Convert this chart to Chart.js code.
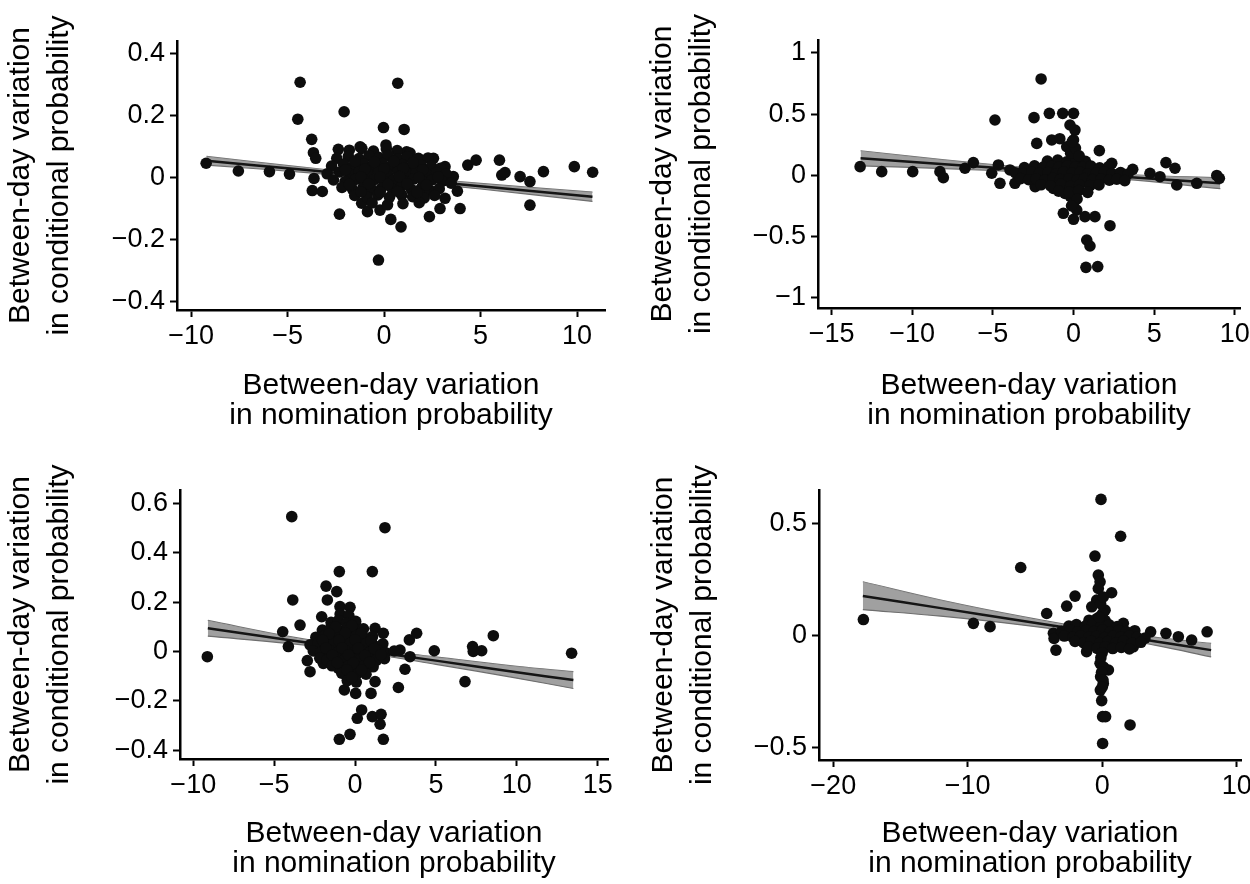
<!DOCTYPE html>
<html>
<head>
<meta charset="utf-8">
<script src="https://cdn.jsdelivr.net/npm/chart.js@4.4.1/dist/chart.umd.min.js"></script>
<style>
  body { margin: 0; background: #fff; }
  #wrap { position: relative; width: 1250px; height: 884px; }
  canvas { position: absolute; }
</style>
</head>
<body>
<div id="wrap">
  <canvas id="c1" width="625" height="442" style="left:0;top:0"></canvas>
  <canvas id="c2" width="625" height="442" style="left:625px;top:0"></canvas>
  <canvas id="c3" width="625" height="442" style="left:0;top:442px"></canvas>
  <canvas id="c4" width="625" height="442" style="left:625px;top:442px"></canvas>
</div>
<script>
// ---- data: [nomination diff, conditional diff] ----
const points1 = [
  [-9.22,0.046],[-7.55,0.021],[-5.94,0.019],[-4.9,0.011],[-4.35,0.307],[-4.47,0.188],[-3.75,0.123],[-3.66,0.080],
  [-3.54,0.062],[-3.63,-0.003],[-3.72,-0.042],[-3.2,-0.045],[-2.07,0.212],[-2.37,0.091],[-1.24,0.099],[0.10,0.105],
  [-0.03,0.161],[0.71,0.304],[1.04,0.155],[1.17,0.083],[1.78,0.062],[2.56,0.062],[-2.31,-0.118],[-1.16,-0.083],
  [-0.86,-0.110],[-0.21,-0.105],[0.35,-0.135],[0.88,-0.159],[-0.29,-0.266],[2.35,-0.126],[2.90,-0.100],[3.16,-0.067],
  [3.94,-0.100],[3.80,-0.044],[3.16,0.035],[3.59,0.003],[4.34,0.040],[4.77,0.056],[5.98,0.056],[6.10,0.008],
  [6.27,0.016],[7.05,0.003],[7.56,-0.013],[7.56,-0.089],[8.26,0.019],[9.86,0.035],[10.81,0.017],
  [-1.8,0.088],[-1.15,0.094],[-0.55,0.085],[0.12,0.092],[0.68,0.087],[1.35,0.079],
  [-2.45,0.062],[-1.85,0.068],[-1.3,0.061],[-0.78,0.07],[-0.25,0.064],[0.22,0.071],[0.74,0.06],[1.2,0.067],[1.72,0.058],[2.28,0.063],
  [-2.72,0.037],[-2.1,0.043],[-1.62,0.035],[-1.05,0.044],[-0.58,0.038],[-0.08,0.045],[0.42,0.036],[0.93,0.042],[1.38,0.034],[1.9,0.041],[2.45,0.036],[2.92,0.03],
  [-2.95,0.012],[-2.3,0.018],[-1.78,0.01],[-1.28,0.02],[-0.82,0.013],[-0.28,0.017],[0.18,0.011],[0.72,0.019],[1.22,0.012],[1.68,0.018],[2.21,0.01],[2.73,0.016],[3.22,0.011],
  [-2.62,-0.008],[-2.02,-0.013],[-1.48,-0.006],[-0.97,-0.012],[-0.51,-0.007],[0.02,-0.014],[0.48,-0.009],[1.03,-0.011],[1.52,-0.005],[2.04,-0.013],[2.48,-0.008],[3.02,-0.012],[3.48,-0.018],
  [-2.18,-0.032],[-1.63,-0.038],[-1.08,-0.031],[-0.62,-0.039],[-0.12,-0.033],[0.43,-0.037],[0.88,-0.03],[1.41,-0.038],[1.93,-0.034],[2.38,-0.041],[2.86,-0.036],
  [-1.52,-0.058],[-0.88,-0.063],[-0.32,-0.056],[0.28,-0.064],[0.92,-0.057],[1.48,-0.062],[2.08,-0.066],[2.62,-0.058],
  [-0.62,-0.082],[0.18,-0.088],[0.98,-0.084],[1.82,-0.081],
  [-1.5,0.052],[-0.5,0.05],[0.5,0.052],[1.5,0.048],[-2.0,0.025],[-1.0,0.027],[0.0,0.028],[1.0,0.03],[2.0,0.025],
  [-1.2,0.002],[-0.2,0.001],[0.8,0.003],[1.8,0.0],[2.8,0.002],[-1.8,-0.022],[-0.8,-0.02],[0.2,-0.022],[1.2,-0.02],[2.2,-0.024],
  [-1.2,-0.046],[-0.2,-0.047],[0.7,-0.045],[1.7,-0.048]
];
const band1X   = [-9.2, -4, 0, 5, 10.8];
const band1Fit = [0.054, 0.024, 0.001, -0.028, -0.062];
const band1Lo  = [0.040, 0.016, -0.006, -0.037, -0.077];
const band1Hi  = [0.068, 0.032, 0.008, -0.019, -0.047];

const points2 = [
  [-13.23,0.072],[-11.89,0.031],[-9.97,0.031],[-8.28,0.031],[-8.07,-0.018],[-6.73,0.059],[-6.21,0.105],[-5.07,0.018],
  [-4.87,0.453],[-4.66,0.086],[-4.56,-0.064],[-3.94,0.045],[-3.63,-0.064],[-2.45,0.472],[-2.01,0.788],[-1.5,0.507],
  [-2.28,0.262],[-1.35,0.29],[-0.85,0.30],[-0.67,0.507],[0.0,0.507],[-0.22,0.412],[0.09,0.371],[0.0,0.29],[-0.42,0.235],
  [1.6,0.203],[-2.38,-0.091],[-1.25,-0.105],[-0.53,-0.146],[-0.2,-0.17],[0.0,-0.227],[0.2,-0.282],[-0.63,-0.309],
  [0.0,-0.358],[0.71,-0.336],[1.33,-0.336],[2.26,-0.41],[0.82,-0.527],[1.02,-0.576],[0.77,-0.75],[1.5,-0.744],
  [2.37,0.099],[2.88,0.018],[3.67,0.05],[4.74,0.018],[5.36,-0.01],[5.73,0.105],[6.29,0.059],[6.4,-0.078],
  [7.64,-0.064],[8.88,0.0],[9.04,-0.023],
  [-1.62,0.118],[-0.98,0.126],[-0.42,0.112],[0.18,0.131],[0.74,0.115],
  [-3.05,0.064],[-2.42,0.078],[-1.88,0.069],[-1.36,0.074],[-0.92,0.066],[-0.38,0.079],[0.12,0.071],[0.58,0.067],[1.08,0.076],[1.62,0.062],[2.18,0.073],
  [-3.6,0.022],[-3.1,0.015],[-2.58,0.026],[-2.12,0.018],[-1.58,0.024],[-1.08,0.014],[-0.62,0.027],[-0.08,0.019],[0.42,0.025],[0.88,0.013],[1.42,0.021],[1.92,0.028],[2.38,0.016],[2.92,0.023],[3.38,0.012],
  [-3.28,-0.026],[-2.78,-0.035],[-2.32,-0.028],[-1.78,-0.037],[-1.28,-0.024],[-0.82,-0.033],[-0.28,-0.027],[0.22,-0.036],[0.68,-0.025],[1.18,-0.034],[1.72,-0.029],[2.22,-0.038],[2.68,-0.031],[3.18,-0.042],
  [-2.02,-0.076],[-1.42,-0.085],[-0.78,-0.073],[-0.18,-0.088],[0.38,-0.079],[1.02,-0.083],[1.58,-0.077],
  [-0.92,-0.128],[-0.28,-0.136],[0.32,-0.124],[0.88,-0.138],
  [-0.18,0.182],[0.12,0.224],[-0.08,0.276],[0.22,-0.192],[-0.12,-0.248],[0.35,0.16]
];
const band2X   = [-13.2, -8, -3, 0, 4, 9.1];
const band2Fit = [0.140, 0.092, 0.046, 0.019, -0.018, -0.064];
const band2Lo  = [0.078, 0.056, 0.027, 0.003, -0.040, -0.108];
const band2Hi  = [0.202, 0.128, 0.065, 0.035, 0.004, -0.020];

const points3 = [
  [-3.91,0.547],[1.85,0.502],[-0.97,0.324],[1.07,0.324],[-1.79,0.265],[-1.13,0.243],[-1.71,0.209],[-3.85,0.209],
  [-0.93,0.182],[-0.31,0.179],[-2.06,0.141],[-3.4,0.107],[-4.47,0.08],[-4.12,0.02],[-9.13,-0.021],[-2.95,-0.037],
  [-2.78,-0.082],[-1.96,-0.048],[-1.03,-0.068],[-0.66,-0.156],[0.04,-0.17],[0.99,-0.17],[1.24,-0.122],[0.41,-0.237],
  [0.14,-0.271],[1.07,-0.264],[1.61,-0.255],[1.55,-0.295],[-0.97,-0.356],[-0.31,-0.336],[1.75,-0.356],[2.68,-0.146],
  [3.09,-0.072],[1.24,0.094],[1.75,0.074],[3.36,0.047],[3.81,0.074],[4.9,0.003],[6.8,-0.122],[7.27,0.02],
  [7.31,0.0],[7.83,0.003],[8.55,0.064],[13.39,-0.007],[2.78,0.006],[3.4,-0.021],
  [-0.92,0.152],[-0.38,0.146],
  [-1.48,0.118],[-1.02,0.126],[-0.52,0.114],[0.04,0.122],
  [-2.02,0.087],[-1.52,0.093],[-0.98,0.085],[-0.46,0.096],[0.02,0.088],[0.52,0.092],
  [-2.42,0.058],[-1.88,0.064],[-1.38,0.055],[-0.92,0.063],[-0.42,0.057],[0.08,0.066],[0.62,0.054],[1.08,0.061],
  [-2.78,0.027],[-2.28,0.034],[-1.82,0.025],[-1.32,0.033],[-0.78,0.026],[-0.28,0.035],[0.22,0.028],[0.72,0.034],[1.18,0.024],[1.72,0.031],
  [-2.58,0.002],[-2.12,-0.004],[-1.58,0.005],[-1.08,-0.003],[-0.62,0.004],[-0.08,-0.005],[0.42,0.003],[0.92,-0.002],[1.38,0.006],[1.88,-0.004],[2.42,0.002],
  [-2.18,-0.027],[-1.72,-0.034],[-1.18,-0.026],[-0.68,-0.035],[-0.22,-0.028],[0.32,-0.033],[0.78,-0.025],[1.32,-0.036],[1.82,-0.029],
  [-1.42,-0.058],[-0.88,-0.064],[-0.38,-0.056],[0.12,-0.065],[0.58,-0.057],[1.12,-0.062],
  [-0.82,-0.088],[-0.28,-0.094],[0.22,-0.086],[0.68,-0.092],
  [-0.48,-0.118],[0.08,-0.124],
  [-1.2,0.1],[-0.2,0.105],[-1.6,0.072],[-0.6,0.075],[0.4,0.074],[-2.0,0.045],[-1.0,0.045],[0.0,0.047],[1.0,0.043],
  [-1.8,0.014],[-0.8,0.015],[0.2,0.013],[1.2,0.012],[-1.4,-0.015],[-0.4,-0.014],[0.6,-0.016],[1.6,-0.013],
  [-1.1,-0.045],[-0.1,-0.046],[0.9,-0.044],[-0.5,-0.074],[0.4,-0.075],[-0.2,-0.105]
];
const band3X   = [-9.1, -4, 0, 5, 10, 13.5];
const band3Fit = [0.094, 0.046, 0.009, -0.037, -0.084, -0.116];
const band3Lo  = [0.062, 0.032, 0.000, -0.052, -0.108, -0.150];
const band3Hi  = [0.126, 0.060, 0.018, -0.022, -0.060, -0.082];

const points4 = [
  [-17.76,0.071],[-9.58,0.054],[-8.34,0.039],[-6.06,0.304],[-4.13,0.098],[-2.64,0.131],[-2.02,0.176],[-3.63,0.009],
  [-3.58,-0.014],[-3.44,-0.066],[-0.09,0.609],[1.37,0.444],[-0.54,0.355],[-0.29,0.27],[-0.16,0.24],[0.7,0.191],
  [-0.29,0.21],[-0.41,0.158],[-0.78,0.128],[0.21,0.113],[-1.16,-0.073],[-0.16,-0.125],[0.46,-0.155],[-0.12,-0.185],
  [0.08,-0.215],[-0.14,-0.245],[-0.04,-0.292],[0.03,-0.364],[0.25,-0.364],[0.03,-0.484],[2.07,-0.401],[3.6,0.016],
  [4.74,0.009],[5.66,-0.006],[6.65,-0.021],[7.8,0.016],[2.31,-0.051],[2.81,-0.028],[1.57,0.054],
  [-0.98,0.068],[-0.42,0.074],[0.22,0.066],
  [-2.48,0.042],[-1.92,0.048],[-1.28,0.041],[-0.72,0.049],[-0.08,0.043],[0.52,0.047],[1.12,0.04],
  [-3.02,0.018],[-2.38,0.024],[-1.82,0.016],[-1.18,0.023],[-0.62,0.017],[0.02,0.025],[0.58,0.015],[1.22,0.022],[1.78,0.017],[2.42,0.021],
  [-2.82,-0.003],[-2.18,-0.009],[-1.62,-0.002],[-0.98,-0.008],[-0.42,-0.004],[0.18,-0.01],[0.82,-0.003],[1.38,-0.008],[2.02,-0.002],[2.58,-0.009],[3.18,-0.012],
  [-2.02,-0.027],[-1.38,-0.034],[-0.82,-0.026],[-0.18,-0.035],[0.42,-0.028],[1.02,-0.033],[1.58,-0.025],[2.22,-0.036],[2.88,-0.031],
  [-1.02,-0.052],[-0.38,-0.058],[0.22,-0.051],[0.78,-0.059],[1.42,-0.054],[2.02,-0.061],
  [0.02,0.098],[-0.12,0.142],[0.08,0.172],[-0.22,0.082],[0.0,-0.078],[-0.1,-0.1],[0.1,-0.142],[-0.05,-0.165],[0.06,-0.2],[0.0,-0.232]
];
const band4X   = [-17.8, -12, -6, 0, 4, 8.1];
const band4Fit = [0.176, 0.122, 0.066, 0.010, -0.027, -0.066];
const band4Lo  = [0.115, 0.086, 0.047, -0.002, -0.045, -0.096];
const band4Hi  = [0.240, 0.158, 0.085, 0.022, -0.009, -0.036];

const xTicks1 = [-10, -5, 0, 5, 10];
const yTicks1 = [-0.4, -0.2, 0, 0.2, 0.4];
const xTicks2 = [-15, -10, -5, 0, 5, 10];
const yTicks2 = [-1, -0.5, 0, 0.5, 1];
const xTicks3 = [-10, -5, 0, 5, 10, 15];
const yTicks3 = [-0.4, -0.2, 0, 0.2, 0.4, 0.6];
const xTicks4 = [-20, -10, 0, 10];
const yTicks4 = [-0.5, 0, 0.5];

const xTitle = ['Between-day variation', 'in nomination probability'];
const yTitle = ['Between-day variation', 'in conditional probability'];

const FONT = '"Liberation Sans", Arial, Helvetica, sans-serif';

// minus sign like the original
function fmt(v) {
  return v < 0 ? '\u2212' + Math.abs(v) : String(v);
}

function xy(xs, ys) {
  return xs.map((x, i) => ({ x: x, y: ys[i] }));
}

function makePanel(id, pts, bx, bfit, blo, bhi, ax) {
  return new Chart(document.getElementById(id), {
    type: 'scatter',
    data: {
      datasets: [
        { data: pts.map(p => ({ x: p[0], y: p[1] })), pointRadius: 5.8, backgroundColor: '#0d0d0d', borderWidth: 0 },
        { data: xy(bx, bfit), showLine: true, pointRadius: 0, borderColor: '#151515', borderWidth: 2.5, tension: 0.3 },
        { data: xy(bx, blo), showLine: true, pointRadius: 0, borderColor: '#6e6e6e', borderWidth: 1.2,
          fill: '+1', backgroundColor: 'rgba(150,150,150,0.9)', tension: 0.4 },
        { data: xy(bx, bhi), showLine: true, pointRadius: 0, borderColor: '#6e6e6e', borderWidth: 1.2, tension: 0.4 }
      ]
    },
    options: {
      responsive: false,
      animation: false,
      events: [],
      layout: { padding: { left: 0, top: ax.padTop, right: ax.padRight, bottom: 0 } },
      plugins: { legend: { display: false }, tooltip: { enabled: false } },
      scales: {
        x: {
          type: 'linear',
          min: ax.xMin,
          max: ax.xMax,
          afterBuildTicks: s => { s.ticks = ax.xTicks.map(v => ({ value: v })); },
          afterFit: s => { s.height = ax.xHeight; s.paddingLeft = 0; s.paddingRight = 0; },
          grid: { drawOnChartArea: false, drawTicks: true, tickLength: 7, tickWidth: 2, color: '#000' },
          border: { display: true, color: '#000', width: 2.5 },
          ticks: { color: '#000', font: { family: FONT, size: 27 }, padding: 3, maxRotation: 0, autoSkip: false,
                   callback: v => fmt(v) },
          title: { display: true, text: xTitle, color: '#000', font: { family: FONT, size: 30, lineHeight: 1.0 },
                   padding: { top: 0, bottom: ax.xTitlePad } }
        },
        y: {
          type: 'linear',
          min: ax.yMin,
          max: ax.yMax,
          afterBuildTicks: s => { s.ticks = ax.yTicks.map(v => ({ value: v })); },
          afterFit: s => { s.width = ax.yWidth; s.paddingTop = 0; s.paddingBottom = 0; },
          grid: { drawOnChartArea: false, drawTicks: true, tickLength: 7, tickWidth: 2, color: '#000' },
          border: { display: true, color: '#000', width: 2.5 },
          ticks: { color: '#000', font: { family: FONT, size: 27 }, padding: 5, autoSkip: false,
                   callback: v => fmt(v) },
          title: { display: true, text: yTitle, color: '#000', font: { family: FONT, size: 30, lineHeight: 1.3 },
                   padding: { top: ax.yTitlePad, bottom: 0 } }
        }
      }
    }
  });
}

makePanel('c1', points1, band1X, band1Fit, band1Lo, band1Hi, {
  xMin: -10.73, xMax: 11.45, yMin: -0.427, yMax: 0.44, xTicks: xTicks1, yTicks: yTicks1,
  padTop: 41, padRight: 20, yWidth: 177, xHeight: 132, yTitlePad: 1, xTitlePad: 11
});
makePanel('c2', points2, band2X, band2Fit, band2Lo, band2Hi, {
  xMin: -15.84, xMax: 10.32, yMin: -1.082, yMax: 1.106, xTicks: xTicks2, yTicks: yTicks2,
  padTop: 40, padRight: 10, yWidth: 193, xHeight: 134, yTitlePad: 18, xTitlePad: 11
});
makePanel('c3', points3, band3X, band3Fit, band3Lo, band3Hi, {
  xMin: -10.82, xMax: 15.64, yMin: -0.436, yMax: 0.655, xTicks: xTicks3, yTicks: yTicks3,
  padTop: 48, padRight: 17, yWidth: 180, xHeight: 125, yTitlePad: 1, xTitlePad: 5
});
makePanel('c4', points4, band4X, band4Fit, band4Lo, band4Hi, {
  xMin: -21.06, xMax: 10.32, yMin: -0.558, yMax: 0.651, xTicks: xTicks4, yTicks: yTicks4,
  padTop: 48, padRight: 9, yWidth: 194, xHeight: 124, yTitlePad: 19, xTitlePad: 5
});
</script>
</body>
</html>
